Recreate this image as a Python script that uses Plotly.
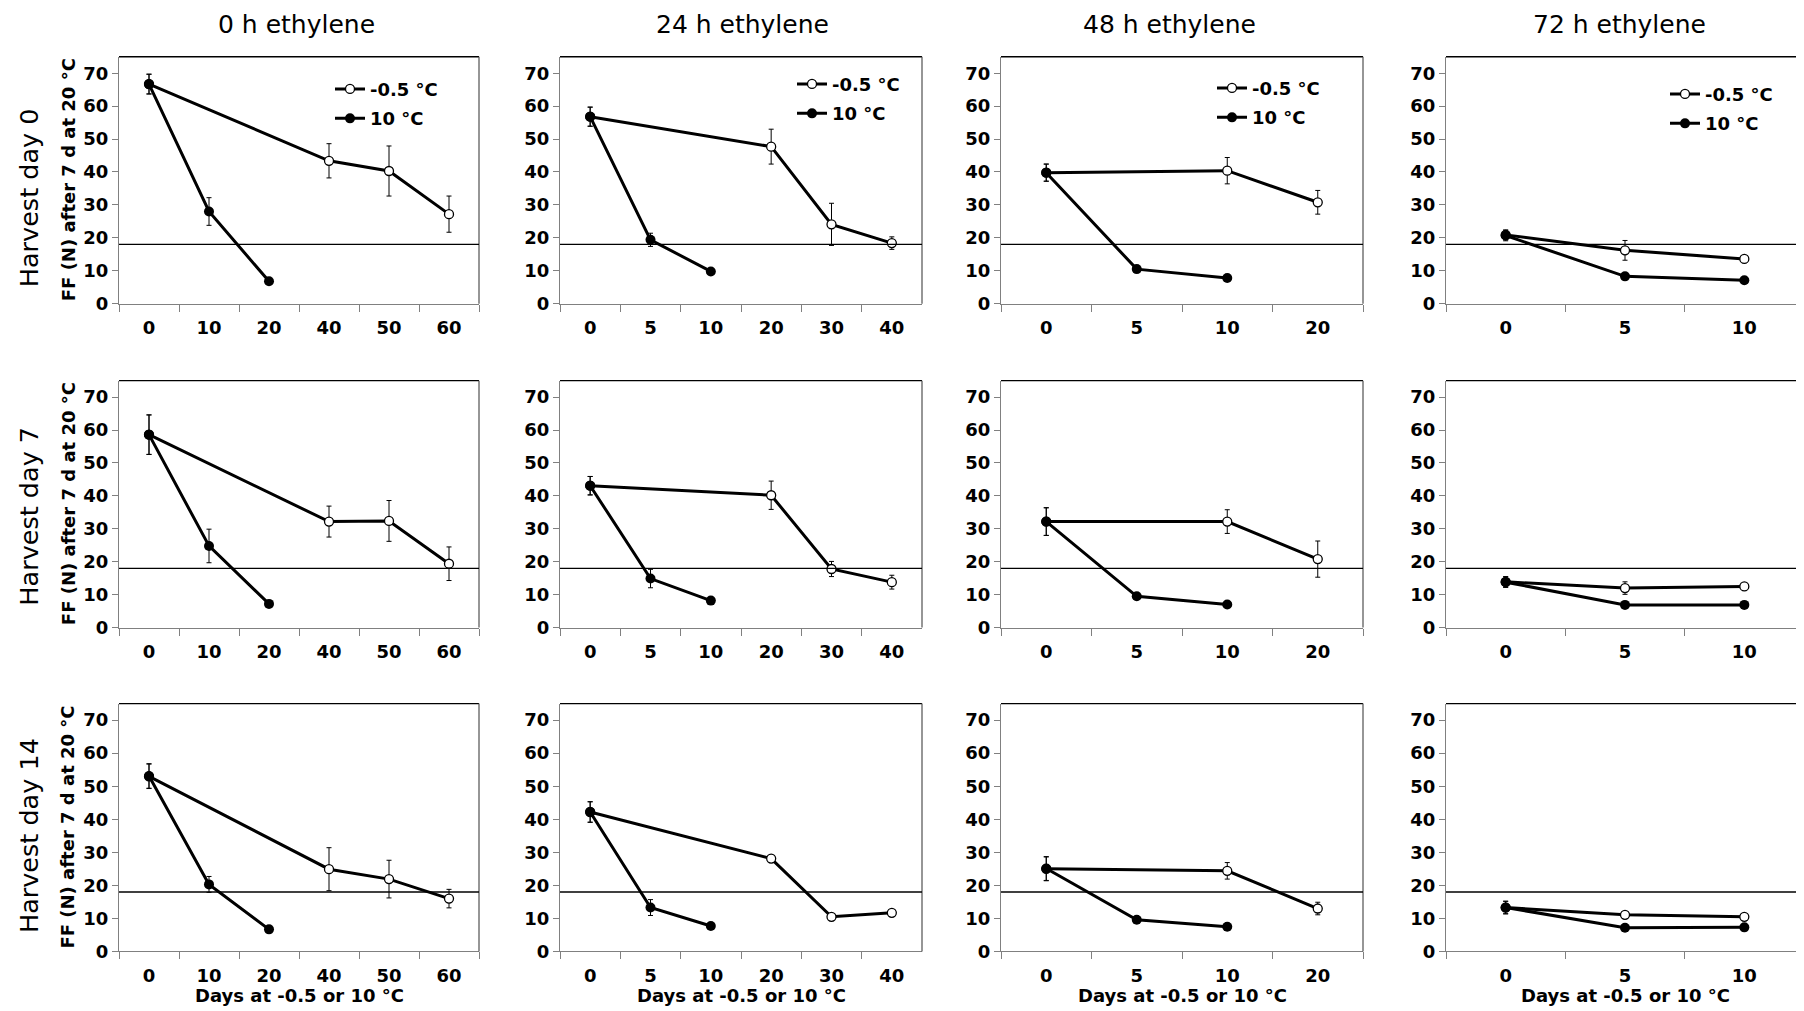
import plotly.graph_objects as go

# ---------------- data ----------------
col_titles = ["0 h ethylene", "24 h ethylene", "48 h ethylene", "72 h ethylene"]
row_titles = ["Harvest day 0", "Harvest day 7", "Harvest day 14"]
y_title = "FF (N) after 7 d at 20 °C"
x_title = "Days at -0.5 or 10 °C"
series_names = ["-0.5 °C", "10 °C"]

x_ticks = [["0", "10", "20", "40", "50", "60"],
           ["0", "5", "10", "20", "30", "40"],
           ["0", "5", "10", "20"],
           ["0", "5", "10"]]
x_cold = [["0", "40", "50", "60"], ["0", "20", "30", "40"], ["0", "10", "20"], ["0", "5", "10"]]
x_warm = [["0", "10", "20"], ["0", "5", "10"], ["0", "5", "10"], ["0", "5", "10"]]

# harvest day 0
cold_day0 = [[66.7, 43.4, 40.3, 27.2], [56.8, 47.7, 24.1, 18.4], [39.8, 40.4, 30.8], [20.9, 16.2, 13.6]]
cold_day0_err = [[3.0, 5.2, 7.6, 5.5], [2.9, 5.3, 6.4, 1.9], [2.6, 4.0, 3.6], [1.5, 3.0, 0.6]]
warm_day0 = [[66.7, 28.0, 6.8], [56.8, 19.4, 9.8], [39.8, 10.5, 7.8], [20.7, 8.3, 7.1]]
warm_day0_err = [[3.0, 4.2, 0.5], [2.9, 2.0, 0.5], [2.6, 0.6, 0.5], [1.6, 0.5, 0.5]]
# harvest day 7
cold_day7 = [[58.6, 32.2, 32.4, 19.4], [43.1, 40.2, 17.8, 13.8], [32.2, 32.2, 20.8], [13.9, 12.0, 12.5]]
cold_day7_err = [[6.0, 4.7, 6.2, 5.1], [2.8, 4.3, 2.3, 2.1], [4.2, 3.6, 5.5], [1.6, 1.9, 0.6]]
warm_day7 = [[58.6, 24.8, 7.2], [43.1, 14.9, 8.2], [32.2, 9.5, 7.0], [13.8, 6.9, 6.9]]
warm_day7_err = [[6.0, 5.1, 0.5], [2.8, 2.8, 0.5], [4.2, 0.6, 0.4], [1.6, 0.4, 0.4]]
# harvest day 14
cold_day14 = [[53.0, 24.9, 21.9, 16.0], [42.2, 28.1, 10.5, 11.7], [25.0, 24.4, 13.0], [13.3, 11.1, 10.5]]
cold_day14_err = [[3.7, 6.5, 5.7, 2.8], [3.1, 1.0, 0.7, 0.8], [3.6, 2.5, 1.9], [1.9, 0.6, 0.9]]
warm_day14 = [[53.1, 20.3, 6.7], [42.2, 13.3, 7.7], [25.1, 9.6, 7.5], [13.3, 7.2, 7.3]]
warm_day14_err = [[3.7, 2.4, 0.4], [3.1, 2.4, 0.4], [3.6, 0.5, 0.4], [1.9, 0.4, 0.4]]

threshold = 18
y_tick_vals = [0, 10, 20, 30, 40, 50, 60, 70]

cold_rows = [cold_day0, cold_day7, cold_day14]
cold_err_rows = [cold_day0_err, cold_day7_err, cold_day14_err]
warm_rows = [warm_day0, warm_day7, warm_day14]
warm_err_rows = [warm_day0_err, warm_day7_err, warm_day14_err]

# ---------------- layout geometry (screen pixels) ----------------
PAGE_OFF = 8                 # default body margin of the html page
Y_SCALE = 0.9904             # measured vertical scale of the photographed page
W, H = 1804 - PAGE_OFF, 1011
col_px = [(119, 479), (560, 922), (1001, 1363), (1446, 1806)]
row_px = [(57, 304), (381, 628), (704, 952)]
legend_marker_px = [(350, 89), (812, 84), (1232, 88), (1685, 94)]
FONT = "DejaVu Sans"


def px_x(p):
    return min((p - PAGE_OFF) / W, 1.0)


def px_y(t):
    p = (t - 0.3) / Y_SCALE
    return 1 - (p - PAGE_OFF) / H


fig = go.Figure()
layout = dict(
    width=W, height=H,
    margin=dict(l=0, r=0, t=0, b=0),
    paper_bgcolor="white", plot_bgcolor="white",
    font=dict(family=FONT, color="black"),
    showlegend=True,
)
annotations = []
shapes = []

for r in range(3):
    for c in range(4):
        idx = r * 4 + c + 1
        sfx = "" if idx == 1 else str(idx)
        xa, ya = "x" + sfx, "y" + sfx
        leg = "legend" if c == 0 else "legend" + str(c + 1)
        # -0.5 °C (open circles)
        fig.add_trace(go.Scatter(
            x=x_cold[c], y=cold_rows[r][c], xaxis=xa, yaxis=ya,
            mode="lines+markers", name=series_names[0],
            line=dict(color="black", width=3),
            marker=dict(symbol="circle", size=9, color="white", line=dict(color="black", width=1.3)),
            error_y=dict(type="data", array=cold_err_rows[r][c], color="black", thickness=1, width=2.5),
            showlegend=(r == 0), legend=leg,
            legendgroup=f"cold{c}",
        ))
        # 10 °C (filled circles)
        fig.add_trace(go.Scatter(
            x=x_warm[c], y=warm_rows[r][c], xaxis=xa, yaxis=ya,
            mode="lines+markers", name=series_names[1],
            line=dict(color="black", width=3),
            marker=dict(symbol="circle", size=10, color="black"),
            error_y=dict(type="data", array=warm_err_rows[r][c], color="black", thickness=1, width=2.5),
            showlegend=(r == 0), legend=leg,
            legendgroup=f"warm{c}",
        ))

        x0, x1 = col_px[c]
        y0, y1 = row_px[r]
        layout["xaxis" + sfx] = dict(
            domain=[px_x(x0), px_x(x1)], anchor=ya,
            type="category", categoryorder="array", categoryarray=x_ticks[c],
            range=[-0.5, len(x_ticks[c]) - 0.5],
            tickson="boundaries", ticks="outside", ticklen=7, tickcolor="#808080",
            showline=True, linecolor="#808080", linewidth=1,
            showgrid=False, zeroline=False, fixedrange=True,
            tickfont=dict(family=FONT, size=18, color="black", weight="bold"),
            ticklabelstandoff=8,
        )
        layout["yaxis" + sfx] = dict(
            domain=[px_y(y1), px_y(y0)], anchor=xa,
            range=[0, 75], tickvals=y_tick_vals,
            ticks="outside", ticklen=6, tickcolor="#808080",
            showline=True, linecolor="#808080", linewidth=1,
            showgrid=False, zeroline=False, fixedrange=True,
            tickfont=dict(family=FONT, size=18, color="black", weight="bold"),
        )
        # top border
        shapes.append(dict(type="line", xref=xa + " domain", yref=ya + " domain",
                           x0=0, x1=1, y0=1, y1=1, line=dict(color="black", width=1.3)))
        # right border (cut off in the last column)
        if c < 3:
            shapes.append(dict(type="line", xref=xa + " domain", yref=ya + " domain",
                               x0=1, x1=1, y0=0, y1=1, line=dict(color="#505050", width=1.2)))
        # threshold line
        shapes.append(dict(type="line", xref=xa + " domain", yref=ya,
                           x0=0, x1=1, y0=threshold, y1=threshold,
                           line=dict(color="black", width=1.3)))

        if c == 0:
            annotations.append(dict(
                text=y_title, textangle=-90, xref="paper", yref=ya + " domain",
                x=px_x(68), y=0.5, xanchor="center", yanchor="middle", showarrow=False,
                font=dict(family=FONT, size=18, color="black", weight="bold")))
        if r == 2:
            annotations.append(dict(
                text=x_title, xref=xa + " domain", yref="paper",
                x=0.5, y=px_y(996), xanchor="center", yanchor="middle", showarrow=False,
                font=dict(family=FONT, size=18, color="black", weight="bold")))

# column titles
col_title_x = [296, 742, 1169, 1619]
for c in range(4):
    annotations.append(dict(
        text=col_titles[c], xref="paper", yref="paper",
        x=px_x(col_title_x[c]), y=px_y(25), xanchor="center", yanchor="middle",
        showarrow=False, font=dict(family=FONT, size=25, color="black")))

# row titles
row_title_y = [198.5, 517, 836.5]
for r in range(3):
    annotations.append(dict(
        text=row_titles[r], textangle=-90, xref="paper", yref="paper",
        x=px_x(29), y=px_y(row_title_y[r]), xanchor="center", yanchor="middle",
        showarrow=False, font=dict(family=FONT, size=25.5, color="black")))

# legends
for c in range(4):
    name = "legend" if c == 0 else "legend" + str(c + 1)
    mx, my = legend_marker_px[c]
    layout[name] = dict(
        x=px_x(mx - 20), y=px_y(my - 18), xanchor="left", yanchor="top",
        bgcolor="rgba(0,0,0,0)", borderwidth=0,
        font=dict(family=FONT, size=18, color="black", weight="bold"),
        tracegroupgap=3, itemwidth=30,
    )

layout["annotations"] = annotations
layout["shapes"] = shapes
fig.update_layout(**layout)

fig.write_html("out.html")
